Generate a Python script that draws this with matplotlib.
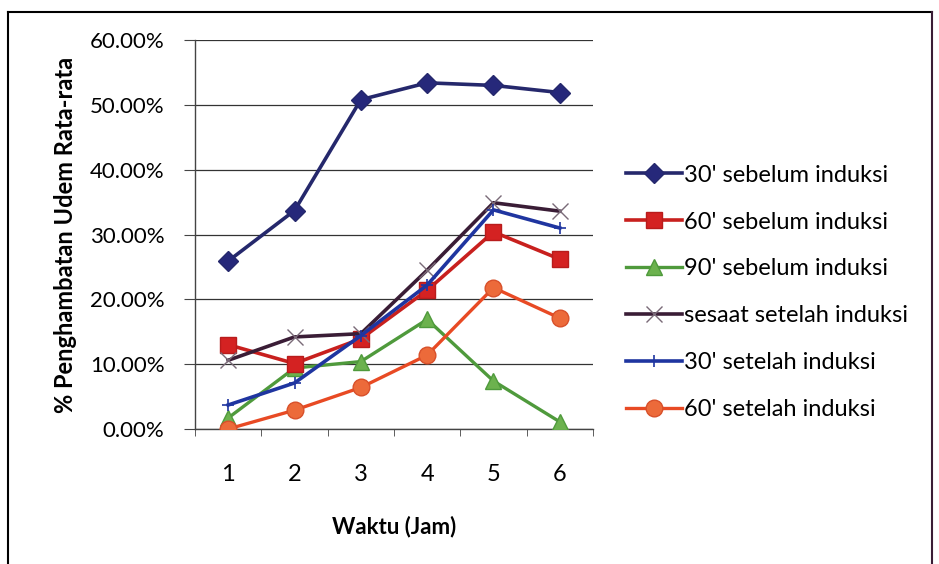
import numpy as np
import matplotlib
matplotlib.use("Agg")
import matplotlib.pyplot as plt
from matplotlib.lines import Line2D
from matplotlib.ticker import FuncFormatter

# data: % penghambatan udem rata-rata per jam
jam = [1, 2, 3, 4, 5, 6]
sebelum30 = [25.9, 33.7, 50.8, 53.4, 53.0, 51.9]
sebelum60 = [13.0, 10.1, 13.9, 21.4, 30.4, 26.2]
sebelum90 = [1.7, 9.4, 10.4, 16.9, 7.4, 1.1]
sesaat = [10.6, 14.2, 14.7, 24.5, 34.9, 33.6]
setelah30 = [3.7, 7.1, 14.4, 22.2, 33.8, 31.0]
setelah60 = [0.0, 2.9, 6.4, 11.4, 21.8, 17.1]

labels = ["30' sebelum induksi", "60' sebelum induksi", "90' sebelum induksi",
          "sesaat setelah induksi", "30' setelah induksi", "60' setelah induksi"]

plt.rcParams['font.family'] = ['Lato', 'DejaVu Sans']

fig = plt.figure(figsize=(9.39, 5.64), dpi=100)
ax = fig.add_axes([0.2077, 0.2394, 0.4238, 0.6896])

ax.plot(jam, sebelum30, '-D', color='#25286c', lw=2.6, ms=10, mfc='#26287a', mec='#25286c', label=labels[0], zorder=5)
ax.plot(jam, sebelum60, '-s', color='#c8201e', lw=2.6, ms=12, mfc='#d42222', mec='#b81c1c', label=labels[1], zorder=4)
ax.plot(jam, sebelum90, '-^', color='#4f9a3c', lw=2.4, ms=12, mfc='#6cb24e', mec='#4f9a3c', label=labels[2], zorder=3)
ax.plot(jam, sesaat, '-x', color='#3a1d36', lw=2.6, ms=11, mec='#7a6a78', mew=1.0, label=labels[3], zorder=4)
ax.plot(jam, setelah30, '-+', color='#1f35a0', lw=2.6, ms=8, mec='#1f35a0', mew=1.2, label=labels[4], zorder=4)
ax.plot(jam, setelah60, '-o', color='#e84a24', lw=2.4, ms=12, mfc='#ec6a3a', mec='#d8502a', label=labels[5], zorder=3)

ax.set_xlim(0.5, 6.5)
ax.set_ylim(0, 60)
ax.set_yticks(np.arange(0, 61, 10))
ax.yaxis.set_major_formatter(FuncFormatter(lambda v, p: '%.2f%%' % v))
ax.set_xticks(jam)
ax.set_xticks(np.arange(0.5, 6.6, 1), minor=True)
ax.tick_params(axis='x', which='major', length=0, labelsize=17, pad=25)
ax.tick_params(axis='x', which='minor', length=5, color='#444444', direction='out')
ax.tick_params(axis='y', length=8, color='#444444', labelsize=16, pad=14)

ax.grid(axis='y', color='#333333', lw=0.9)
ax.set_axisbelow(True)
for s in ['top', 'right']:
    ax.spines[s].set_visible(False)
for s in ['left', 'bottom']:
    ax.spines[s].set_color('#444444')
    ax.spines[s].set_linewidth(1.0)

ax.set_ylabel('% Penghambatan Udem Rata-rata', fontsize=17, fontweight='bold', labelpad=9)
ax.set_xlabel('Waktu (Jam)', fontsize=16, fontweight='bold', labelpad=22)

ax.legend(loc='upper left', bbox_to_anchor=(0.657, 0.725), bbox_transform=fig.transFigure,
          frameon=False, fontsize=17, handlelength=2.35, handletextpad=0.1,
          labelspacing=1.1, borderaxespad=0)

# bingkai luar
fig.add_artist(Line2D([8 / 939, 8 / 939], [0, 1 - 12 / 564], color='black', lw=1.5))
fig.add_artist(Line2D([8 / 939, 932 / 939], [1 - 12 / 564, 1 - 12 / 564], color='black', lw=1.5))
fig.add_artist(Line2D([932 / 939, 932 / 939], [0, 1 - 12 / 564], color='#3a1d36', lw=1.5))

fig.savefig('out.png', dpi=100)
